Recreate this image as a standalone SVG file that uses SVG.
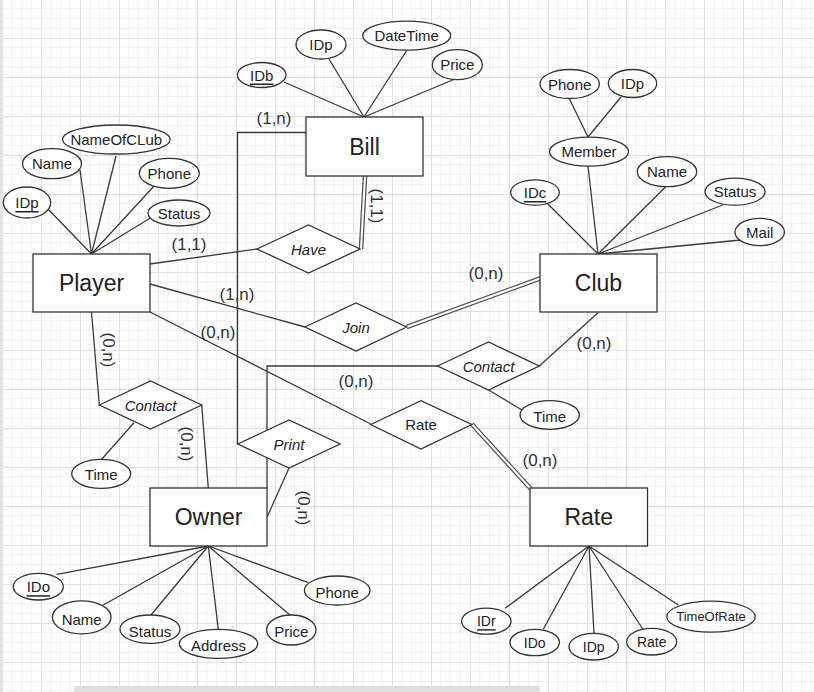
<svg xmlns="http://www.w3.org/2000/svg" width="814" height="692" viewBox="0 0 814 692">
<defs>
<pattern id="grid" x="2" y="-1" width="39" height="39" patternUnits="userSpaceOnUse">
<path d="M9.75 0V39M19.5 0V39M29.25 0V39M0 9.75H39M0 19.5H39M0 29.25H39" stroke="#f1f1f1" stroke-width="1" fill="none"/>
<path d="M0.5 0V39M0 0.5H39" stroke="#e1e1e1" stroke-width="1" fill="none"/>
</pattern>
<style>
.ent{fill:#fff;stroke:#333;stroke-width:1.3}
.rel{fill:#fff;stroke:#333;stroke-width:1.3}
.att{fill:#fff;stroke:#333;stroke-width:1.3}
.ln{fill:none;stroke:#3a3a3a;stroke-width:1.3}
.dbo{fill:none;stroke:#555;stroke-width:4.6}
.dbi{fill:none;stroke:#fff;stroke-width:2}
text{font-family:"Liberation Sans",Arial,sans-serif;fill:#222;text-anchor:middle;dominant-baseline:central}
.et{font-size:23px}
.rt{font-size:15px;font-style:italic}
.at{font-size:15px}
.sm{font-size:14px}
.xs{font-size:13px}
.lb{font-size:17px;fill:#333}
.u{text-decoration:underline}
</style>
</defs>
<rect width="814" height="692" fill="#fff"/>
<rect width="814" height="692" fill="url(#grid)"/>
<rect x="0" y="0" width="2" height="692" fill="#e4e4e4"/>
<rect x="74" y="686" width="466" height="6" rx="2" fill="#dedede"/>

<g id="connectors">
<!-- Bill attributes -->
<path class="ln" d="M284 82L364 117M329 59L364 117M407 50L364 117M455 79L364 117"/>
<!-- Player attributes -->
<path class="ln" d="M47 208L91.5 254M80 170L91.5 254M116 156L91.5 254M155 185L91.5 254M152 217L91.5 254"/>
<!-- Club attributes -->
<path class="ln" d="M546.7 202.7L598 254M588 166L598 254M665.7 186.7L598 254M722.7 205L598 254M740.7 240L598 254"/>
<path class="ln" d="M569 98L588 137L621 97"/>
<!-- Owner attributes -->
<path class="ln" d="M56.7 574.3L208.3 546M103.3 605L208.3 546M151 615L208.3 546M218.3 629.3L208.3 546M290 615L208.3 546M308.3 582.7L208.3 546"/>
<!-- Rate attributes -->
<path class="ln" d="M505 608.3L589 546M543.3 629.3L589 546M594 633.3L589 546M642.7 629L589 546M678.3 605L589 546"/>
<!-- Relationship times -->
<path class="ln" d="M134 422.7L101.7 459.3"/>
<path class="ln" d="M488.5 390L522 410"/>
<!-- Player - Have -->
<path class="ln" d="M150 264L257 249"/>
<!-- Have - Bill (double) -->
<path class="dbo" d="M361 249L365 176"/>
<path class="dbi" d="M361 249L365 176"/>
<!-- Bill - Print -->
<path class="ln" d="M306 132.5H237.5V444"/>
<!-- Print - Owner -->
<path class="ln" d="M289 468L267.3 516.7"/>
<!-- Player - Join -->
<path class="ln" d="M150 284L305 327"/>
<!-- Join - Club (double) -->
<path class="dbo" d="M406.7 327L540 278.5"/>
<path class="dbi" d="M406.7 327L540 278.5"/>
<!-- Club - Contact -->
<path class="ln" d="M598.3 312.5L539.3 366"/>
<!-- Contact - Owner -->
<path class="ln" d="M437.7 366H267V488"/>
<!-- Player - Rate rel -->
<path class="ln" d="M150 312L370.7 424"/>
<!-- Rate rel - Rate (double) -->
<path class="dbo" d="M471.7 424L530.5 488.5"/>
<path class="dbi" d="M471.7 424L530.5 488.5"/>
<!-- Player - Contact -->
<path class="ln" d="M91.5 312L99.3 405"/>
<!-- Contact - Owner -->
<path class="ln" d="M201.7 405L208.3 488"/>

<text class="lb" x="189" y="244">(1,1)</text>
<text class="lb" x="237" y="294">(1,n)</text>
<text class="lb" x="218" y="332">(0,n)</text>
<text class="lb" x="274" y="118">(1,n)</text>
<text class="lb" transform="translate(376,206) rotate(90)">(1,1)</text>
<text class="lb" x="486" y="273">(0,n)</text>
<text class="lb" x="594" y="343">(0,n)</text>
<text class="lb" x="356" y="381">(0,n)</text>
<text class="lb" x="540" y="460">(0,n)</text>
<text class="lb" transform="translate(108,350) rotate(90)">(0,n)</text>
<text class="lb" transform="translate(186,444) rotate(90)">(0,n)</text>
<text class="lb" transform="translate(303,508) rotate(90)">(0,n)</text>
</g>

<g id="player"><rect class="ent" x="33" y="254" width="117" height="58"/><text class="et" x="91.5" y="283">Player</text></g>
<g id="bill"><rect class="ent" x="306" y="117" width="117" height="59"/><text class="et" x="364.5" y="146.5">Bill</text></g>
<g id="club"><rect class="ent" x="540" y="254" width="117" height="58"/><text class="et" x="598.5" y="283">Club</text></g>
<g id="owner"><rect class="ent" x="150" y="488" width="117" height="58"/><text class="et" x="208.5" y="517">Owner</text></g>
<g id="rate"><rect class="ent" x="530" y="488" width="117.5" height="58"/><text class="et" x="588.7" y="517">Rate</text></g>

<g id="have"><path class="rel" d="M257 249L308.5 225L360 249L308.5 273Z"/><text class="rt" x="308.5" y="249">Have</text></g>
<g id="join"><path class="rel" d="M305 327L356 303L406.7 327L356 351Z"/><text class="rt" x="356" y="327">Join</text></g>
<g id="contact-club"><path class="rel" d="M437.7 366L488.5 342L539.3 366L488.5 390Z"/><text class="rt" x="488.5" y="366">Contact</text></g>
<g id="rate-rel"><path class="rel" d="M370.7 424.5L421 400.7L471.7 424.5L421 449Z"/><text class="at" x="421" y="424.5">Rate</text></g>
<g id="print"><path class="rel" d="M237.7 444L289 420L340 444L289 468Z"/><text class="rt" x="289" y="444">Print</text></g>
<g id="contact-player"><path class="rel" d="M99.3 405L150.5 381L201.7 405L150.5 429Z"/><text class="rt" x="150.5" y="405">Contact</text></g>

<g id="bill-idb"><ellipse class="att" cx="261.7" cy="75" rx="24.3" ry="12.5"/><text class="at u" x="261.7" y="75">IDb</text></g>
<g id="bill-idp"><ellipse class="att" cx="321" cy="44.5" rx="25" ry="14.5"/><text class="at" x="321" y="44.5">IDp</text></g>
<g id="bill-datetime"><ellipse class="att" cx="406.7" cy="35.7" rx="44" ry="14.5"/><text class="at" x="406.7" y="35.7">DateTime</text></g>
<g id="bill-price"><ellipse class="att" cx="457.3" cy="64.7" rx="25" ry="15"/><text class="at" x="457.3" y="64.7">Price</text></g>

<g id="player-nameofclub"><ellipse class="att" cx="116.3" cy="139.5" rx="53.7" ry="14.5"/><text class="at" x="116.3" y="139.5">NameOfCLub</text></g>
<g id="player-name"><ellipse class="att" cx="52" cy="163.7" rx="29.5" ry="15"/><text class="at" x="52" y="163.7">Name</text></g>
<g id="player-idp"><ellipse class="att" cx="27" cy="202.5" rx="23.7" ry="15.5"/><text class="at u" x="27" y="202.5">IDp</text></g>
<g id="player-phone"><ellipse class="att" cx="169.3" cy="173.3" rx="30" ry="15"/><text class="at" x="169.3" y="173.3">Phone</text></g>
<g id="player-status"><ellipse class="att" cx="179" cy="213" rx="31" ry="13"/><text class="at" x="179" y="213">Status</text></g>

<g id="club-phone"><ellipse class="att" cx="569.7" cy="84" rx="29.7" ry="14.5"/><text class="at" x="569.7" y="84">Phone</text></g>
<g id="club-idp"><ellipse class="att" cx="632.5" cy="83.5" rx="24.2" ry="14"/><text class="at" x="632.5" y="83.5">IDp</text></g>
<g id="club-member"><ellipse class="att" cx="589" cy="151.7" rx="39.5" ry="14.5"/><text class="at" x="589" y="151.7">Member</text></g>
<g id="club-name"><ellipse class="att" cx="667" cy="171.7" rx="29.7" ry="15"/><text class="at" x="667" y="171.7">Name</text></g>
<g id="club-idc"><ellipse class="att" cx="535" cy="192.5" rx="24.3" ry="12.7"/><text class="at u" x="535" y="192.5">IDc</text></g>
<g id="club-status"><ellipse class="att" cx="735" cy="191.7" rx="30" ry="13.5"/><text class="at" x="735" y="191.7">Status</text></g>
<g id="club-mail"><ellipse class="att" cx="759.7" cy="232" rx="24.7" ry="13.7"/><text class="at" x="759.7" y="232">Mail</text></g>

<g id="owner-ido"><ellipse class="att" cx="38.3" cy="586.7" rx="25" ry="13.3"/><text class="at u" x="38.3" y="586.7">IDo</text></g>
<g id="owner-name"><ellipse class="att" cx="81.7" cy="617.3" rx="29.3" ry="16.5"/><text class="at" x="81.7" y="619">Name</text></g>
<g id="owner-status"><ellipse class="att" cx="150" cy="629.2" rx="30" ry="14.2"/><text class="at" x="150" y="631">Status</text></g>
<g id="owner-address"><ellipse class="att" cx="218.5" cy="643.8" rx="39.2" ry="14.5"/><text class="at" x="218.5" y="645.5">Address</text></g>
<g id="owner-price"><ellipse class="att" cx="291.3" cy="630" rx="24.7" ry="15"/><text class="at" x="291.3" y="631.5">Price</text></g>
<g id="owner-phone"><ellipse class="att" cx="337.2" cy="590.5" rx="32.8" ry="14.5"/><text class="at" x="337.2" y="592">Phone</text></g>

<g id="rate-idr"><ellipse class="att" cx="486.3" cy="621.2" rx="24.7" ry="13"/><text class="sm u" x="486.3" y="621.2">IDr</text></g>
<g id="rate-ido"><ellipse class="att" cx="534.7" cy="642.5" rx="24.7" ry="13.2"/><text class="sm" x="534.7" y="642.5">IDo</text></g>
<g id="rate-idp"><ellipse class="att" cx="593.7" cy="646.7" rx="24.7" ry="13.3"/><text class="sm" x="593.7" y="646.7">IDp</text></g>
<g id="rate-rate"><ellipse class="att" cx="651.7" cy="641.7" rx="25" ry="13.3"/><text class="sm" x="651.7" y="641.7">Rate</text></g>
<g id="rate-timeofrate"><ellipse class="att" cx="711" cy="616.7" rx="44.2" ry="15.5"/><text class="xs" x="711" y="616.7">TimeOfRate</text></g>

<g id="time-player"><ellipse class="att" cx="101.2" cy="473.8" rx="29.5" ry="14.5"/><text class="at" x="101.2" y="474.5">Time</text></g>
<g id="time-club"><ellipse class="att" cx="549.7" cy="415" rx="29.7" ry="14.3"/><text class="at" x="549.7" y="416">Time</text></g>
</svg>
